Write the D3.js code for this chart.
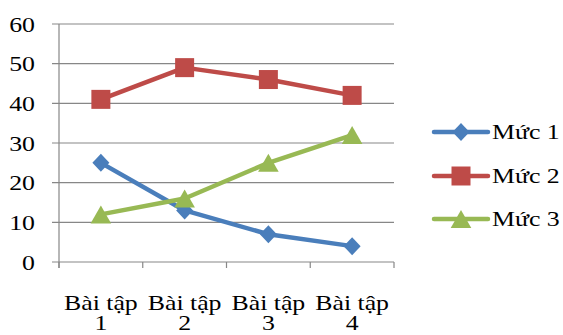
<!DOCTYPE html>
<html>
<head>
<meta charset="utf-8">
<script src="https://cdn.jsdelivr.net/npm/d3@7"></script>
<style>
  body { margin: 0; background: #fff; }
  svg { display: block; }
</style>
</head>
<body>
<svg id="chart" width="563" height="335"></svg>
<script>
// Data
const categories = ["Bài tập 1", "Bài tập 2", "Bài tập 3", "Bài tập 4"];
const seriesNames = ["Mức 1", "Mức 2", "Mức 3"];
const muc1 = [25, 13, 7, 4];
const muc2 = [41, 49, 46, 42];
const muc3 = [12, 16, 25, 32];
const yTicks = [0, 10, 20, 30, 40, 50, 60];

const colors = ["#4A7EBB", "#BE4B48", "#98B954"];
const FONT = "'Liberation Serif', 'Times New Roman', serif";
const FS = 21.5;    // font size
const SX = 1.2;     // horizontal text stretch

// Marker shapes
function markerPath(kind) {
  if (kind === "diamond") return "M0,-9L8.5,0L0,9L-8.5,0Z";
  if (kind === "square") return "M-9.5,-9.5H9.5V9.5H-9.5Z";
  return "M0,-9L10.3,9L-10.3,9Z";
}
const markerKinds = ["diamond", "square", "triangle"];
const series = [muc1, muc2, muc3].map((v, i) => ({ name: seriesNames[i], values: v, color: colors[i], kind: markerKinds[i] }));

const svg = d3.select("#chart");
const plotLeft = 59, plotRight = 394, plotTop = 24, plotBottom = 262;

const x = d3.scaleBand().domain(categories).range([plotLeft, plotRight]).padding(0);
const y = d3.scaleLinear().domain([0, 60]).range([plotBottom, plotTop]);
const cx = c => x(c) + x.bandwidth() / 2;

function addText(g, tx, ty, str, anchor) {
  return g.append("text")
    .attr("transform", `translate(${tx},${ty}) scale(${SX},1)`)
    .attr("text-anchor", anchor || "start")
    .style("font-family", FONT)
    .style("font-size", FS + "px")
    .style("fill", "#000")
    .text(str);
}

// Horizontal gridlines (with outward tick stubs)
svg.append("g")
  .selectAll("line").data(yTicks).join("line")
  .attr("x1", plotLeft - 7).attr("x2", plotRight)
  .attr("y1", d => y(d)).attr("y2", d => y(d))
  .attr("stroke", "#878787").attr("stroke-width", 1.2);

// Y axis labels
const yLab = svg.append("g");
yTicks.forEach(t => addText(yLab, 35, y(t) + 7.5, String(t), "end"));

// Y axis line
svg.append("line")
  .attr("x1", plotLeft).attr("x2", plotLeft).attr("y1", plotTop).attr("y2", plotBottom + 6)
  .attr("stroke", "#878787").attr("stroke-width", 1.2);

// X axis tick marks at category boundaries
const bounds = categories.map(c => x(c)).concat([x(categories[categories.length - 1]) + x.bandwidth()]);
svg.append("g")
  .selectAll("line").data(bounds).join("line")
  .attr("x1", d => d).attr("x2", d => d)
  .attr("y1", plotBottom).attr("y2", plotBottom + 6)
  .attr("stroke", "#878787").attr("stroke-width", 1.2);

// Category labels, wrapped in two lines within one text element
const catG = svg.append("g");
categories.forEach(c => {
  const parts = c.split(" ");
  const line1 = parts.slice(0, parts.length - 1).join(" ");
  const line2 = parts[parts.length - 1];
  const t = addText(catG, cx(c), 309.5, "", "middle");
  t.append("tspan").attr("x", 0).attr("y", 0).text(line1);
  t.append("tspan").attr("x", 0).attr("y", 20.5).text(line2);
});

// Series lines and markers
const line = d3.line()
  .x((d, i) => cx(categories[i]))
  .y(d => y(d));

series.forEach(s => {
  const g = svg.append("g");
  g.append("path")
    .attr("d", line(s.values))
    .attr("fill", "none")
    .attr("stroke", s.color)
    .attr("stroke-width", 4.5)
    .attr("stroke-linejoin", "round");
  g.selectAll("path.m").data(s.values).join("path")
    .attr("class", "m")
    .attr("transform", (d, i) => `translate(${cx(categories[i])},${y(d)})`)
    .attr("d", markerPath(s.kind))
    .attr("fill", s.color);
});

// Legend
const legendY = [132, 176, 219];
series.forEach((s, i) => {
  const g = svg.append("g").attr("transform", `translate(0,${legendY[i]})`);
  g.append("line").attr("x1", 434).attr("x2", 488).attr("y1", 0).attr("y2", 0)
    .attr("stroke", s.color).attr("stroke-width", 4.5).attr("stroke-linecap", "round");
  g.append("path").attr("transform", "translate(461,0)")
    .attr("d", markerPath(s.kind)).attr("fill", s.color);
  addText(g, 492, 7, s.name, "start");
});
</script>
</body>
</html>
